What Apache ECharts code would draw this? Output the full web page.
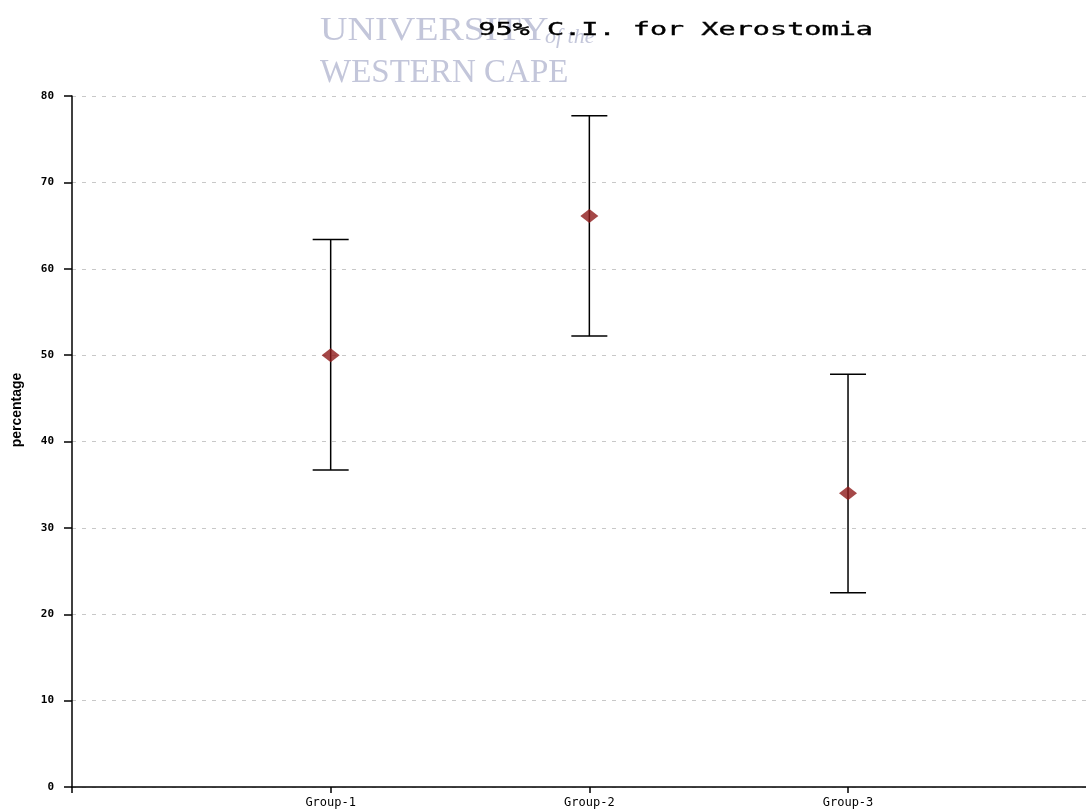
<!DOCTYPE html>
<html><head><meta charset="utf-8">
<script src="https://cdn.jsdelivr.net/npm/echarts@6/dist/echarts.min.js"></script>
<style>html,body{margin:0;padding:0;background:#fff}#c{width:1086px;height:809px}</style>
</head><body><div id="c"></div>
<script>
const categories = ['Group-1', 'Group-2', 'Group-3'];
const means = [50.0, 66.1, 34.0];
const lowers = [36.7, 52.2, 22.5];
const uppers = [63.4, 77.7, 47.8];
const yTicks = [0, 10, 20, 30, 40, 50, 60, 70, 80];

const chart = echarts.init(document.getElementById('c'));
const ciData = categories.map((c, i) => [i + 1, lowers[i], uppers[i]]);
const meanData = categories.map((c, i) => [i + 1, means[i]]);

chart.setOption({
  animation: false,
  backgroundColor: '#fff',
  graphic: [
    { type: 'text', left: 320, top: 14, z: -1, style: { text: 'UNIVERSITY', font: '34px "Liberation Serif"', fill: '#c3c6da' }, scaleX: 1.12 },
    { type: 'text', left: 545, top: 26, z: -1, style: { text: 'of the', font: 'italic 22px "Liberation Serif"', fill: '#c3c6da' } },
    { type: 'text', left: 320, top: 57, z: -1, style: { text: 'WESTERN CAPE', font: '33px "Liberation Serif"', fill: '#c3c6da' } },
    { type: 'text', left: 478, top: 21, z: 10, style: { text: '95% C.I. for Xerostomia', font: '19px "DejaVu Sans Mono"', fill: '#000', stroke: '#000', lineWidth: 0.4 }, scaleX: 1.5, scaleY: 0.95 },
    { type: 'text', x: 10, y: 410, rotation: Math.PI / 2, z: 10, style: { text: 'percentage', font: 'bold 14px "Liberation Sans"', fill: '#000', align: 'center', verticalAlign: 'top' } }
  ],
  grid: { left: 72, right: 0, top: 96, bottom: 22, containLabel: false },
  xAxis: {
    type: 'value', min: 0, max: 3.92,
    axisLine: { show: true, lineStyle: { color: '#000', width: 1.5 } },
    axisTick: { show: true, customValues: [0, 1, 2, 3], length: 6, lineStyle: { color: '#000', width: 1.5 } },
    axisLabel: { customValues: [1, 2, 3], formatter: v => categories[Math.round(v) - 1] || '', color: '#000', fontFamily: 'DejaVu Sans Mono', fontSize: 12, margin: 10 },
    splitLine: { show: false }
  },
  yAxis: {
    type: 'value', min: 0, max: 80, interval: 10,
    axisLine: { show: true, lineStyle: { color: '#000', width: 1.5 } },
    axisTick: { show: true, length: 8, lineStyle: { color: '#000', width: 1.5 } },
    axisLabel: { color: '#000', fontFamily: 'DejaVu Sans Mono', fontSize: 11, fontWeight: 'bold', margin: 18, formatter: v => yTicks.includes(v) ? String(v) : '' },
    splitLine: { show: true, lineStyle: { color: '#c8c8c8', type: [4, 6], width: 1 } }
  },
  series: [
    {
      type: 'custom',
      data: ciData,
      z: 3,
      renderItem: (params, api) => {
        const x = api.value(0);
        const lo = api.coord([x, api.value(1)]);
        const hi = api.coord([x, api.value(2)]);
        const hw = 18;
        const st = { stroke: '#000', lineWidth: 1.5 };
        return { type: 'group', children: [
          { type: 'line', shape: { x1: lo[0], y1: lo[1], x2: hi[0], y2: hi[1] }, style: st },
          { type: 'line', shape: { x1: lo[0] - hw, y1: lo[1], x2: lo[0] + hw, y2: lo[1] }, style: st },
          { type: 'line', shape: { x1: hi[0] - hw, y1: hi[1], x2: hi[0] + hw, y2: hi[1] }, style: st }
        ]};
      }
    },
    {
      type: 'scatter',
      data: meanData,
      symbol: 'diamond',
      symbolSize: [18, 14],
      z: 5,
      itemStyle: { color: '#8e1a1a' }
    }
  ]
});
</script></body></html>
